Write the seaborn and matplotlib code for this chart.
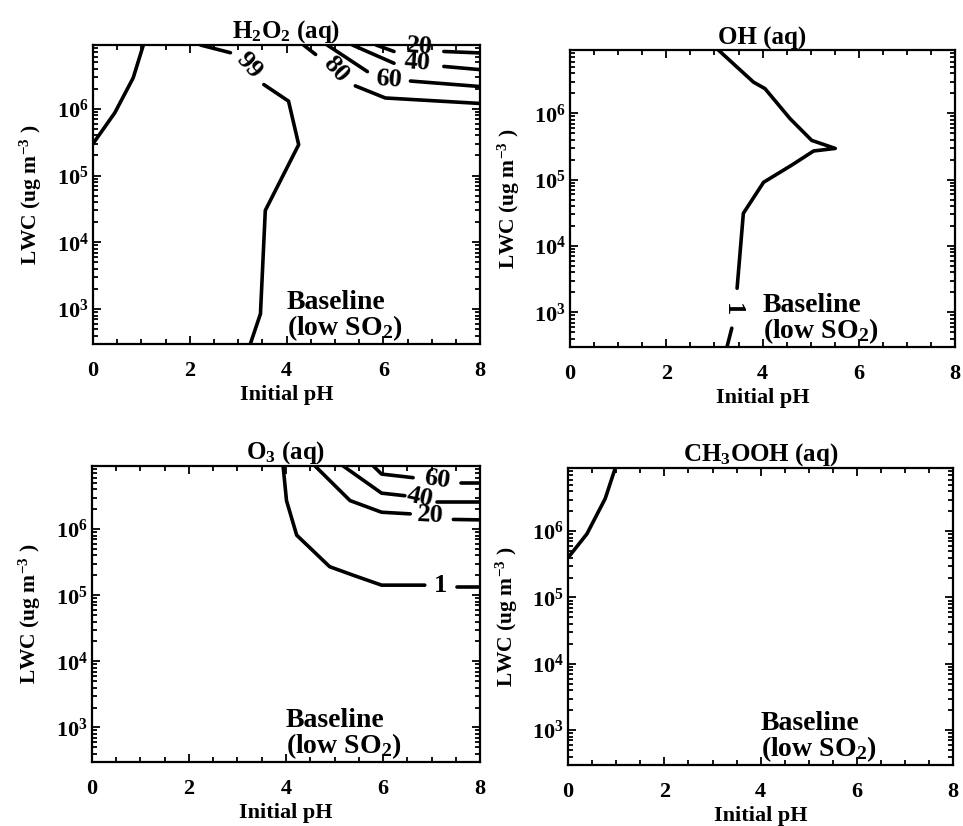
import numpy as np
import pandas as pd
import matplotlib
matplotlib.use("Agg")
import matplotlib.pyplot as plt
import seaborn as sns
from matplotlib.ticker import LogLocator, MultipleLocator, NullFormatter, FuncFormatter

nan = np.nan

# ---------------- data (pH, LWC in ug m^-3); NaN splits a contour where its label sits ----------------
# H2O2 (aq) contours
h2o2_edge_ph = [0.0, 0.45, 0.83, 1.04]
h2o2_edge_lwc = [3.0e5, 8.7e5, 2.9e6, 9.0e6]
h2o2_99_ph = [2.22, 2.84, nan, 3.53, 4.04, 4.25, 3.56, 3.46, 3.25]
h2o2_99_lwc = [9.0e6, 6.9e6, nan, 2.3e6, 1.3e6, 2.9e5, 3.0e4, 8.5e2, 3.0e2]
h2o2_80_ph = [4.35, 4.60, nan, 5.42, 6.04, 8.0]
h2o2_80_lwc = [9.0e6, 6.5e6, nan, 2.2e6, 1.45e6, 1.2e6]
h2o2_60_ph = [4.84, 5.67, nan, 6.56, 8.0]
h2o2_60_lwc = [9.0e6, 3.6e6, nan, 2.6e6, 2.15e6]
h2o2_40_ph = [5.36, 6.22, nan, 7.25, 8.0]
h2o2_40_lwc = [9.0e6, 4.8e6, nan, 4.3e6, 3.85e6]
h2o2_20_ph = [5.85, 6.22, nan, 7.25, 8.0]
h2o2_20_lwc = [9.0e6, 7.2e6, nan, 7.2e6, 6.85e6]

# OH (aq) contour
oh_1_ph = [3.08, 3.81, 4.05, 4.57, 5.02, 5.51, 5.06, 4.61, 4.02, 3.60, 3.53, 3.47, nan, 3.36, 3.26]
oh_1_lwc = [9.0e6, 2.95e6, 2.35e6, 8.3e5, 3.9e5, 2.95e5, 2.7e5, 1.66e5, 9.1e4, 3.1e4, 7.6e3, 2.3e3, nan, 5.75e2, 3.0e2]

# O3 (aq) contours
o3_1_ph = [3.94, 4.01, 4.22, 4.90, 5.39, 5.97, 6.86, nan, 7.52, 8.0]
o3_1_lwc = [9.0e6, 2.7e6, 8.1e5, 2.7e5, 2.0e5, 1.42e5, 1.42e5, nan, 1.35e5, 1.35e5]
o3_20_ph = [4.60, 5.32, 5.97, 6.56, nan, 7.45, 8.0]
o3_20_lwc = [9.0e6, 2.7e6, 1.8e6, 1.7e6, nan, 1.4e6, 1.38e6]
o3_40_ph = [5.18, 5.97, 6.45, nan, 7.11, 8.0]
o3_40_lwc = [9.0e6, 3.5e6, 3.2e6, nan, 2.6e6, 2.6e6]
o3_60_ph = [5.80, 5.97, 6.62, nan, 7.60, 8.0]
o3_60_lwc = [9.0e6, 6.8e6, 6.0e6, nan, 4.9e6, 4.9e6]

# CH3OOH (aq) contour
ch3ooh_ph = [0.0, 0.39, 0.77, 0.98]
ch3ooh_lwc = [4.0e5, 9.1e5, 3.1e6, 9.0e6]

titles = [r"H$_2$O$_2$ (aq)", "OH (aq)", r"O$_3$ (aq)", r"CH$_3$OOH (aq)"]
x_label = "Initial pH"
y_label = r"LWC (ug m$^{-3}$ )"
note = "Baseline\n(low SO$_2$)"

# ---------------- style ----------------
sns.set_theme(style="ticks")
plt.rcParams["font.family"] = ["Liberation Serif", "DejaVu Serif"]
plt.rcParams["font.weight"] = "bold"
plt.rcParams["mathtext.fontset"] = "custom"
plt.rcParams["mathtext.rm"] = "Liberation Serif:bold"
plt.rcParams["mathtext.it"] = "Liberation Serif:bold"
plt.rcParams["mathtext.bf"] = "Liberation Serif:bold"
plt.rcParams["mathtext.default"] = "rm"
for key in ["text.color", "axes.labelcolor", "xtick.color", "ytick.color", "axes.edgecolor"]:
    plt.rcParams[key] = "black"

LW = 2.6
fig = plt.figure(figsize=(9.63, 8.26), dpi=100)

positions = [
    [0.0966, 0.5835, 0.4020, 0.3620],
    [0.5920, 0.5800, 0.3998, 0.3595],
    [0.0955, 0.0775, 0.4030, 0.3583],
    [0.5900, 0.0740, 0.3998, 0.3596],
]
axes = [fig.add_axes(p) for p in positions]


def draw_contour(ax, ph, lwc):
    ph = np.asarray(ph, float)
    lwc = np.asarray(lwc, float)
    df = pd.DataFrame({"pH": ph, "LWC": lwc, "piece": np.cumsum(np.isnan(ph))}).dropna()
    sns.lineplot(data=df, x="pH", y="LWC", units="piece", estimator=None, sort=False,
                 color="black", lw=LW, ax=ax, legend=False)


def level_label(ax, x, y, txt, rot=0):
    ax.text(x, y, txt, rotation=rot, rotation_mode="anchor", ha="center", va="center",
            fontsize=19, fontweight="bold", color="black", clip_on=False, zorder=5)


for ax in axes:
    ax.set_yscale("log")
    ax.set_xlim(0, 8)
    ax.set_ylim(3.0e2, 9.0e6)

# H2O2
ax = axes[0]
for ph, lwc in [(h2o2_edge_ph, h2o2_edge_lwc), (h2o2_99_ph, h2o2_99_lwc), (h2o2_80_ph, h2o2_80_lwc),
                (h2o2_60_ph, h2o2_60_lwc), (h2o2_40_ph, h2o2_40_lwc), (h2o2_20_ph, h2o2_20_lwc)]:
    draw_contour(ax, ph, lwc)
level_label(ax, 3.22, 4.4e6, "99", -48)
level_label(ax, 5.02, 3.85e6, "80", -48)
level_label(ax, 6.11, 2.75e6, "60", -4)
level_label(ax, 6.70, 4.9e6, "40", -4)
level_label(ax, 6.74, 8.6e6, "20", -4)

# OH
ax = axes[1]
draw_contour(ax, oh_1_ph, oh_1_lwc)
level_label(ax, 3.38, 1.1e3, "1", -90)

# O3
ax = axes[2]
for ph, lwc in [(o3_1_ph, o3_1_lwc), (o3_20_ph, o3_20_lwc), (o3_40_ph, o3_40_lwc), (o3_60_ph, o3_60_lwc)]:
    draw_contour(ax, ph, lwc)
level_label(ax, 7.18, 1.40e5, "1", 0)
level_label(ax, 6.97, 1.6e6, "20", -3)
level_label(ax, 6.76, 3.0e6, "40", -12)
level_label(ax, 7.11, 5.7e6, "60", -8)

# CH3OOH
ax = axes[3]
draw_contour(ax, ch3ooh_ph, ch3ooh_lwc)

for ax, title in zip(axes, titles):
    ax.set_title(title, fontsize=18, fontweight="bold", pad=3)
    ax.set_xlabel(x_label, fontsize=16, fontweight="bold", labelpad=3)
    ax.set_ylabel(y_label, fontsize=15.5, fontweight="bold", labelpad=9)
    ax.xaxis.set_major_locator(MultipleLocator(2))
    ax.xaxis.set_minor_locator(MultipleLocator(0.5))
    ax.yaxis.set_major_locator(LogLocator(base=10, numticks=20))
    ax.yaxis.set_minor_locator(LogLocator(base=10, subs=np.arange(2, 10), numticks=20))
    ax.yaxis.set_minor_formatter(NullFormatter())
    ax.yaxis.set_major_formatter(FuncFormatter(lambda v, p: r"$10^{%d}$" % round(np.log10(v))))
    ax.xaxis.set_major_formatter(FuncFormatter(lambda v, p: "%d" % round(v)))
    ax.tick_params(which="both", direction="in", top=True, right=True, width=1.3, colors="black")
    ax.tick_params(which="major", length=6)
    ax.tick_params(which="minor", length=3.5)
    ax.tick_params(axis="x", which="major", pad=12, labelsize=16)
    ax.tick_params(axis="y", which="major", pad=3, labelsize=16)
    for lab in ax.get_xticklabels() + ax.get_yticklabels():
        lab.set_fontweight("bold")
    for s in ax.spines.values():
        s.set_linewidth(1.6)
        s.set_color("black")
    ax.text(0.5, 0.004, note, transform=ax.transAxes, ha="left", va="bottom",
            fontsize=20, fontweight="bold", linespacing=0.9)

fig.savefig("out.png", dpi=100, facecolor="white")
